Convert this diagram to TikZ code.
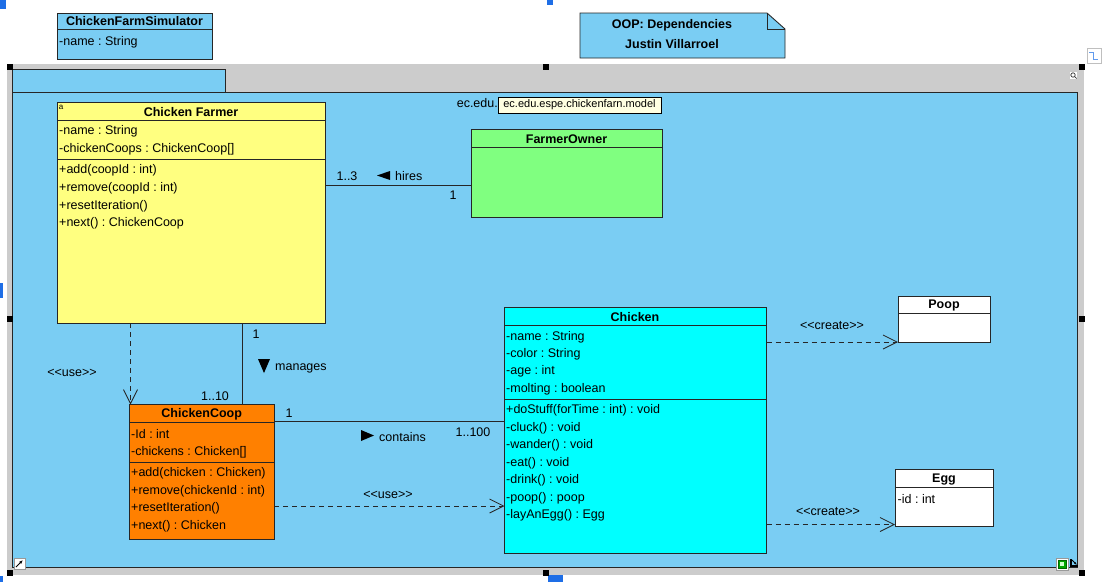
\documentclass[tikz,border=0pt]{standalone}
\usepackage{fontspec}
\setmainfont{Liberation Sans}
\usetikzlibrary{arrows.meta}

\definecolor{pkgblue}{RGB}{122,205,243}
\definecolor{framegray}{RGB}{204,204,204}
\definecolor{farmeryellow}{RGB}{255,255,128}
\definecolor{ownergreen}{RGB}{128,255,128}
\definecolor{cooporange}{RGB}{255,128,0}
\definecolor{chickencyan}{RGB}{0,255,255}
\definecolor{tipyellow}{RGB}{255,255,225}
\definecolor{selblue}{RGB}{30,110,230}

\newcommand{\stereo}[1]{<\kern0pt<#1>\kern0pt>}
\newcommand{\umlfont}{\fontsize{12.5}{14}\selectfont\frenchspacing}

\tikzset{
  classbox/.style={draw=black!85, line width=0.9pt, rectangle, anchor=north west, inner sep=0pt, outer sep=0pt},
  head/.style={font=\umlfont\bfseries, inner sep=0pt},
  member/.style={anchor=west, inner sep=0pt},
  lbl/.style={inner sep=0pt},
  assoc/.style={draw=black!85, line width=0.8pt},
  dep/.style={draw=black!85, line width=0.8pt, dash pattern=on 5pt off 4pt, -{Straight Barb[length=14pt,width=14pt]}},
}

\begin{document}
\begin{tikzpicture}[x=1pt, y=-1pt, font=\umlfont]
    \useasboundingbox (0,0) rectangle (1108,582);
    % selection marks of the editor
    \fill[selblue] (0,0) rectangle (6,9);
    \fill[selblue] (547,0) rectangle (553,5);
    \fill[selblue] (0,283) rectangle (3,298);
    \fill[selblue] (0,576) rectangle (3,582);
    \fill[selblue] (548,575) rectangle (563,582);

    % package frame
    \fill[framegray] (7,64) rectangle (1084,575);
    \draw[fill=pkgblue, draw=black!85, line width=0.9pt] (12,69) rectangle (225,92);
    \draw[fill=pkgblue, draw=black!85, line width=0.9pt] (12,92) rectangle (1077,567);
    \foreach \hx/\hy in {10/67, 546/67, 1082/67, 10/319, 1082/319, 10/573, 546/573, 1082/573}
        \fill (\hx-3,\hy-3) rectangle (\hx+3,\hy+3);
    \node[lbl, anchor=east] (pkgname) at (498,103) {ec.edu.};
    \node[classbox, fill=tipyellow, draw=black, line width=0.6pt, minimum width=163pt, minimum height=16pt] (tip) at (498,97) {};
    \node[lbl, font=\fontsize{11}{13}\selectfont] (tiptext) at (tip.center) {ec.edu.espe.chickenfarn.model};

    % small icons
    \draw[fill=white, draw=black!40] (14,558) rectangle (25,569);
    \draw[-{Latex[length=4pt]}, line width=1pt] (16,567) -- (23,560);
    \draw[fill=white, draw=black!40] (1056,558) rectangle (1068,570);
    \draw[fill=green!65!black, draw=green!40!black] (1058,560) rectangle (1066,568);
    \fill[white!80!green] (1060,562) rectangle (1064,566);
    \draw[line width=1.2pt] (1071,559) -- (1071,566) -- (1078,566);
    \draw[-{Latex[length=3pt]}, line width=1pt] (1072,560) -- (1077,565);
    \draw[fill=white, draw=black!25] (1087,48) rectangle (1101,63);
    \draw[selblue!70, line width=0.8pt] (1089,52) -- (1093,52) -- (1093,59) -- (1098,59);
    \fill[white] (1070,72) rectangle (1077,79);
    \draw[black!80, line width=0.7pt] (1073,75) circle (2.2) (1074.5,76.5) -- (1076.5,78.5);

    % note
    \draw[fill=pkgblue, draw=black!85, line width=0.9pt] (580,13) -- (767,13) -- (785,29) -- (785,58) -- (580,58) -- cycle;
    \draw[draw=black!85, line width=0.9pt] (767,13) -- (767,29) -- (785,29);
    \node[head] (noteA) at (672,25) {OOP: Dependencies};
    \node[head] (noteB) at (672,44) {Justin Villarroel};

    % ChickenFarmSimulator
    \node[classbox, fill=pkgblue, minimum width=155pt, minimum height=46pt] (sim) at (57,13) {};
    \draw[assoc] (57,29.5) -- (212,29.5);
    \node[head] (simname) at (134.5,21) {ChickenFarmSimulator};
    \node[member] (simA) at (59,42) {-name : String};

    % Chicken Farmer
    \node[classbox, fill=farmeryellow, minimum width=268pt, minimum height=221pt] (farmer) at (57,102) {};
    \draw[assoc] (57,120) -- (325,120);
    \draw[assoc] (57,159) -- (325,159);
    \node[lbl, font=\fontsize{8}{9}\selectfont] (farmertag) at (61,107) {a};
    \node[head] (farmername) at (191,112) {Chicken Farmer};
    \node[member] (farmerA) at (59,131) {-name : String};
    \node[member] (farmerB) at (59,149) {-chickenCoops : ChickenCoop[]};
    \node[member] (farmerC) at (59,170) {+add(coopId : int)};
    \node[member] (farmerD) at (59,188) {+remove(coopId : int)};
    \node[member] (farmerE) at (59,206) {+resetIteration()};
    \node[member] (farmerF) at (59,223) {+next() : ChickenCoop};

    % FarmerOwner
    \node[classbox, fill=ownergreen, minimum width=191pt, minimum height=88pt] (owner) at (471,129) {};
    \draw[assoc] (471,147) -- (662,147);
    \node[head] (ownername) at (566.5,139) {FarmerOwner};

    % ChickenCoop
    \node[classbox, fill=cooporange, minimum width=144.5pt, minimum height=134.5pt] (coop) at (129.5,404.5) {};
    \draw[assoc] (129.5,422.3) -- (274,422.3);
    \draw[assoc] (129.5,462) -- (274,462);
    \node[head] (coopname) at (201.7,414) {ChickenCoop};
    \node[member] (coopA) at (131,434) {-Id : int};
    \node[member] (coopB) at (131,452) {-chickens : Chicken[]};
    \node[member] (coopC) at (131,473) {+add(chicken : Chicken)};
    \node[member] (coopD) at (131,491) {+remove(chickenId : int)};
    \node[member] (coopE) at (131,508.5) {+resetIteration()};
    \node[member] (coopF) at (131,526) {+next() : Chicken};

    % Chicken
    \node[classbox, fill=chickencyan, minimum width=262pt, minimum height=246pt] (chicken) at (504.5,307.5) {};
    \draw[assoc] (504.5,325) -- (766.5,325);
    \draw[assoc] (504.5,399) -- (766.5,399);
    \node[head] (chickenname) at (635,317) {Chicken};
    \node[member] (chickenA) at (506,337) {-name : String};
    \node[member] (chickenB) at (506,354.5) {-color : String};
    \node[member] (chickenC) at (506,371.7) {-age : int};
    \node[member] (chickenD) at (506,389.3) {-molting : boolean};
    \node[member] (chickenE) at (506,410.7) {+doStuff(forTime : int) : void};
    \node[member] (chickenF) at (506,428.3) {-cluck() : void};
    \node[member] (chickenG) at (506,445.7) {-wander() : void};
    \node[member] (chickenH) at (506,463.3) {-eat() : void};
    \node[member] (chickenI) at (506,480.3) {-drink() : void};
    \node[member] (chickenJ) at (506,498.7) {-poop() : poop};
    \node[member] (chickenK) at (506,515.7) {-layAnEgg() : Egg};

    % Poop and Egg
    \node[classbox, fill=white, minimum width=92.5pt, minimum height=46.5pt] (poop) at (898,296) {};
    \draw[assoc] (898,313.3) -- (990.5,313.3);
    \node[head] (poopname) at (944,305.5) {Poop};
    \node[classbox, fill=white, minimum width=98pt, minimum height=56.5pt] (egg) at (895,469.5) {};
    \draw[assoc] (895,487.3) -- (993,487.3);
    \node[head] (eggname) at (944,480) {Egg};
    \node[member] (eggA) at (897.5,499) {-id : int};

    % hires
    \coordinate (hiresY) at (0,185);
    \draw[assoc] (farmer.east |- hiresY) -- (owner.west |- hiresY);
    \node[lbl] (hiresFrom) at (347,176) {1..3};
    \fill (377,175.5) -- (390,171) -- (390,180) -- cycle;
    \node[member] (hires) at (395,176) {hires};
    \node[lbl] (hiresTo) at (453,195) {1};

    % manages
    \coordinate (managesX) at (242,0);
    \draw[assoc] (farmer.south -| managesX) -- (coop.north -| managesX);
    \node[lbl] (managesFrom) at (256,334) {1};
    \fill (258,359) -- (270,359) -- (264,373) -- cycle;
    \node[member] (manages) at (275,368) {manages};
    \node[lbl] (managesTo) at (215,396) {1..10};

    % use farmer -> coop
    \coordinate (useX) at (130.5,0);
    \draw[dep] (farmer.south -| useX) -- (coop.north -| useX);
    \node[lbl] (useA) at (72,373) {\stereo{use}};

    % contains
    \coordinate (containsY) at (0,421.5);
    \draw[assoc] (coop.east |- containsY) -- (chicken.west |- containsY);
    \node[lbl] (containsFrom) at (289,413) {1};
    \fill (361,430) -- (374,435.5) -- (361,441) -- cycle;
    \node[member] (contains) at (379,437) {contains};
    \node[lbl] (containsTo) at (473,432) {1..100};

    % use coop -> chicken
    \coordinate (useY) at (0,506);
    \draw[dep] (coop.east |- useY) -- (chicken.west |- useY);
    \node[lbl] (useB) at (388,494.5) {\stereo{use}};

    % create
    \coordinate (poopY) at (0,342);
    \draw[dep] (chicken.east |- poopY) -- (poop.west |- poopY);
    \node[lbl] (createA) at (832,326) {\stereo{create}};
    \coordinate (eggY) at (0,524.5);
    \draw[dep] (chicken.east |- eggY) -- (egg.west |- eggY);
    \node[lbl] (createB) at (828,512) {\stereo{create}};
\end{tikzpicture}
\end{document}
